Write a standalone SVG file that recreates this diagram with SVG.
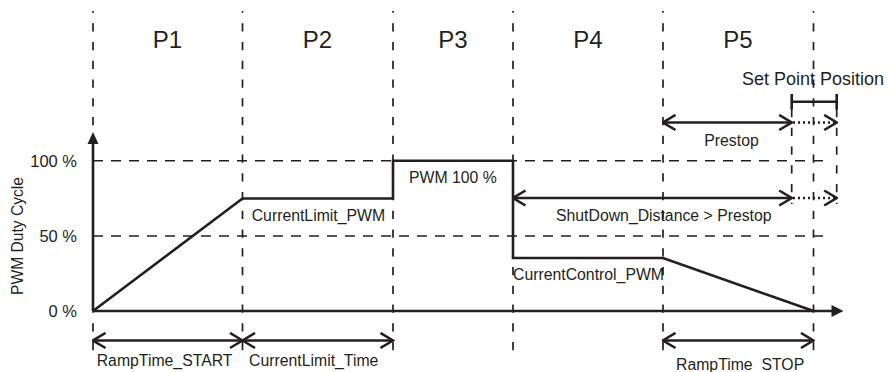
<svg xmlns="http://www.w3.org/2000/svg" width="889" height="372" viewBox="0 0 889 372">
<style>
text{font-family:"Liberation Sans",Arial,sans-serif;fill:#231f20;font-size:15.8px}
.p{font-size:24px;text-anchor:middle}
.ax{font-size:16.5px;text-anchor:end}
.vd{stroke:#231f20;stroke-width:1.7;stroke-dasharray:8.3 10.45;fill:none}
.hd{stroke:#231f20;stroke-width:1.6;stroke-dasharray:10 8;fill:none}
.ln{stroke:#231f20;stroke-width:2.6;fill:none}
.arr{stroke:#231f20;stroke-width:2.6;fill:none;marker-start:url(#chev);marker-end:url(#chev)}
.dot{stroke:#231f20;stroke-width:2.6;fill:none;stroke-dasharray:2 3;marker-end:url(#chev)}
</style>
<defs>
<marker id="chev" viewBox="0 0 15 18" refX="13.5" refY="9" markerWidth="15" markerHeight="18" orient="auto-start-reverse" markerUnits="userSpaceOnUse">
<polyline points="1,1.5 13.5,9 1,16.5" fill="none" stroke="#231f20" stroke-width="2.6"/>
</marker>
</defs>
<g id="grid">
<line class="vd" x1="93" y1="11" x2="93" y2="360" stroke-dashoffset="6.5"/>
<line class="vd" x1="242.5" y1="11" x2="242.5" y2="360" stroke-dashoffset="6.5"/>
<line class="vd" x1="393" y1="11" x2="393" y2="360" stroke-dashoffset="6.5"/>
<line class="vd" x1="513" y1="11" x2="513" y2="360" stroke-dashoffset="6.5"/>
<line class="vd" x1="663" y1="11" x2="663" y2="360" stroke-dashoffset="6.5"/>
<line class="vd" x1="813.5" y1="11" x2="813.5" y2="360" stroke-dashoffset="6.5"/>
<line class="vd" x1="791.7" y1="109" x2="791.7" y2="204"/>
<line class="vd" x1="836.7" y1="109" x2="836.7" y2="204"/>
<line class="hd" x1="93" y1="160.7" x2="830" y2="160.7"/>
<line class="hd" x1="93" y1="236" x2="830" y2="236"/>
</g>
<g id="labels">
<text class="p" x="167.5" y="48">P1</text>
<text class="p" x="317.5" y="48">P2</text>
<text class="p" x="453" y="48">P3</text>
<text class="p" x="588" y="48">P4</text>
<text class="p" x="738" y="48">P5</text>
<text x="742" y="85" style="font-size:18px">Set Point Position</text>
<text class="ax" x="77" y="166.7">100 %</text>
<text class="ax" x="77" y="241.7">50 %</text>
<text class="ax" x="77" y="316.7">0 %</text>
<text transform="translate(23.3,236) rotate(-90)" text-anchor="middle" style="font-size:15.6px">PWM Duty Cycle</text>
</g>
<g id="axes">
<line class="ln" x1="93" y1="311" x2="93" y2="143"/>
<polygon points="93,132 87.5,144 98.5,144" fill="#231f20"/>
<line class="ln" x1="93" y1="311" x2="833" y2="311"/>
<polygon points="843.5,311 831.5,305 831.5,317" fill="#231f20"/>
</g>
<g id="pwm-curve">
<polyline class="ln" points="93,311 242.5,198.5 393,198.5 393,160.7 513,160.7 513,258 663,258 813.5,311" stroke-linejoin="miter"/>
<text x="251.7" y="221">CurrentLimit_PWM</text>
<text x="409" y="183">PWM 100 %</text>
<text x="513" y="280">CurrentControl_PWM</text>
</g>
<g id="connectors">
<g id="setpoint">
<line class="ln" x1="791.7" y1="101.7" x2="836.7" y2="101.7"/>
<line class="ln" x1="791.7" y1="94" x2="791.7" y2="109.5"/>
<line class="ln" x1="836.7" y1="94" x2="836.7" y2="109.5"/>
</g>
<g id="prestop">
<line class="arr" x1="663" y1="122.5" x2="791.7" y2="122.5"/>
<line class="dot" x1="793" y1="122.5" x2="836.7" y2="122.5"/>
<text x="731.5" y="146" text-anchor="middle">Prestop</text>
</g>
<g id="shutdown">
<line class="arr" x1="513" y1="198" x2="791.7" y2="198"/>
<line class="dot" x1="793" y1="198" x2="836.7" y2="198"/>
<text x="556" y="221">ShutDown_Distance &gt; Prestop</text>
</g>
<g id="ramp-start">
<line class="arr" x1="93" y1="340.5" x2="242.5" y2="340.5"/>
<text x="96.7" y="366">RampTime_START</text>
</g>
<g id="currentlimit-time">
<line class="arr" x1="242.5" y1="340.5" x2="393" y2="340.5"/>
<text x="249" y="366">CurrentLimit_Time</text>
</g>
<g id="ramp-stop">
<line class="arr" x1="663" y1="340.5" x2="813.5" y2="340.5"/>
<text x="676" y="370">RampTime_STOP</text>
</g>
</g>
</svg>
